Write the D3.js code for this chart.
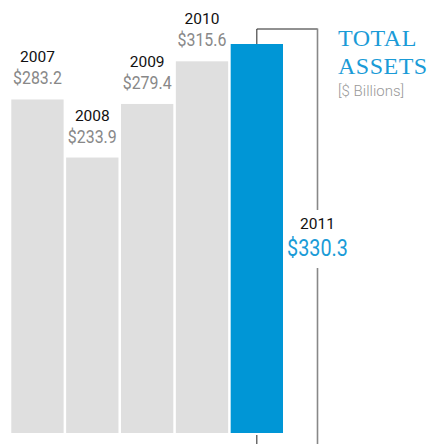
<!DOCTYPE html>
<html>
<head>
<meta charset="utf-8">
<script src="https://cdn.jsdelivr.net/npm/d3@7"></script>
<style>
  body { margin: 0; background: #fff; }
  svg { display: block; }
</style>
</head>
<body>
<div id="chart"></div>
<script>
// data
var years = ["2007", "2008", "2009", "2010", "2011"];
var assets = [283.2, 233.9, 279.4, 315.6, 330.3];
var titleLines = ["TOTAL", "ASSETS"];
var unitLabel = "[$ Billions]";

var width = 428, height = 444;

var svg = d3.select("#chart").append("svg")
    .attr("width", width)
    .attr("height", height);

var x = d3.scaleBand().domain(years).range([11.3, 283]).paddingInner(0.046).paddingOuter(0);
var y = d3.scaleLinear().domain([0, 330.3]).range([433, 44]);

var data = years.map(function(d, i) { return {year: d, value: assets[i]}; });
var last = data[data.length - 1];

// bars
svg.selectAll(".bar").data(data).enter().append("rect")
    .attr("class", "bar")
    .attr("x", function(d) { return x(d.year); })
    .attr("width", x.bandwidth())
    .attr("y", function(d) { return y(d.value); })
    .attr("height", function(d) { return y(0) - y(d.value); })
    .attr("fill", function(d) { return d === last ? "#0096d6" : "#dfdfdf"; });

// labels above bars (all but last)
var labeled = data.slice(0, -1);
svg.selectAll(".yr").data(labeled).enter().append("text")
    .attr("class", "yr")
    .attr("x", function(d) { return x(d.year) + x.bandwidth() / 2; })
    .attr("y", function(d) { return y(d.value) - 37; })
    .attr("text-anchor", "middle")
    .style("font-family", "Roboto")
    .style("font-size", "15.5px")
    .attr("fill", "#111")
    .text(function(d) { return d.year; });

svg.selectAll(".val").data(labeled).enter().append("text")
    .attr("class", "val")
    .attr("transform", function(d) {
      return "translate(" + (x(d.year) + x.bandwidth() / 2) + "," + (y(d.value) - 15) + ") scale(0.86,1)";
    })
    .attr("text-anchor", "middle")
    .style("font-family", "Roboto")
    .style("font-size", "18.5px")
    .attr("fill", "#888")
    .text(function(d) { return "$" + d.value.toFixed(1); });

// bracket for last bar
var cx = x(last.year) + x.bandwidth() / 2;
var rx = 317.5;
svg.append("path")
    .attr("d", "M" + cx + "," + y(last.value) + "V29H" + rx)
    .attr("fill", "none")
    .attr("stroke", "#222")
    .attr("stroke-width", 1);
svg.append("line")
    .attr("x1", rx).attr("x2", rx).attr("y1", 28.5).attr("y2", 210)
    .attr("stroke", "#888").attr("stroke-width", 1.6);
svg.append("line")
    .attr("x1", rx).attr("x2", rx).attr("y1", 268).attr("y2", height)
    .attr("stroke", "#888").attr("stroke-width", 1.6);
svg.append("line")
    .attr("x1", cx).attr("x2", cx).attr("y1", 435).attr("y2", height)
    .attr("stroke", "#222").attr("stroke-width", 1);

// last bar label
svg.append("text")
    .attr("x", rx).attr("y", 229)
    .attr("text-anchor", "middle")
    .style("font-family", "Roboto")
    .style("font-size", "15.5px")
    .attr("fill", "#111")
    .text(last.year);
svg.append("text")
    .attr("transform", "translate(" + rx + ",256) scale(0.86,1)")
    .attr("text-anchor", "middle")
    .style("font-family", "Roboto")
    .style("font-size", "23px")
    .attr("fill", "#1a9bd7")
    .text("$" + last.value.toFixed(1));

// title
svg.selectAll(".title").data(titleLines).enter().append("text")
    .attr("class", "title")
    .attr("x", 338)
    .attr("y", function(d, i) { return 46 + i * 28; })
    .style("font-family", "Liberation Serif")
    .style("font-size", "24px")
    .style("letter-spacing", "0.5px")
    .attr("fill", "#1a9bd7")
    .text(function(d) { return d; });
svg.append("text")
    .attr("x", 338).attr("y", 96)
    .style("font-family", "Roboto")
    .style("font-size", "15px")
    .style("font-weight", 300)
    .attr("fill", "#999")
    .text(unitLabel);
</script>
</body>
</html>
